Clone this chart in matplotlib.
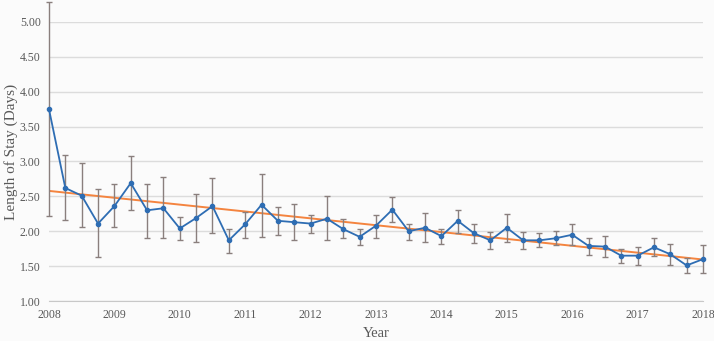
import numpy as np
import matplotlib.pyplot as plt

# Quarterly data 2008-2018
anos = np.arange(41) / 4 + 2008
media = [3.75, 2.62, 2.51, 2.11, 2.36, 2.69, 2.30, 2.33, 2.04, 2.19,
         2.36, 1.87, 2.10, 2.38, 2.15, 2.13, 2.11, 2.18, 2.03, 1.92,
         2.08, 2.31, 2.00, 2.05, 1.93, 2.15, 1.97, 1.87, 2.05, 1.87,
         1.87, 1.90, 1.95, 1.79, 1.78, 1.65, 1.65, 1.77, 1.67, 1.51,
         1.60]
superior = [5.28, 3.09, 2.98, 2.60, 2.68, 3.08, 2.68, 2.78, 2.21, 2.54,
            2.77, 2.03, 2.27, 2.82, 2.35, 2.39, 2.24, 2.50, 2.17, 2.03,
            2.24, 2.49, 2.11, 2.26, 2.03, 2.31, 2.10, 1.99, 2.25, 1.99,
            1.98, 2.01, 2.11, 1.91, 1.93, 1.75, 1.78, 1.90, 1.82, 1.62,
            1.80]
inferior = [2.22, 2.16, 2.06, 1.63, 2.06, 2.30, 1.91, 1.90, 1.88, 1.85,
            1.97, 1.69, 1.91, 1.92, 1.94, 1.88, 1.97, 1.88, 1.90, 1.81,
            1.91, 2.13, 1.88, 1.85, 1.82, 1.98, 1.83, 1.74, 1.84, 1.75,
            1.77, 1.80, 1.80, 1.66, 1.63, 1.55, 1.52, 1.64, 1.52, 1.40,
            1.40]
anos_ticks = list(range(2008, 2019))

media = np.array(media)
erro = [media - np.array(inferior), np.array(superior) - media]

plt.rcParams['font.family'] = ['Liberation Serif', 'DejaVu Serif']
cor_texto = '#595959'

fig = plt.figure(figsize=(7.14, 3.41), dpi=100)
fig.patch.set_facecolor('#fbfbfb')
ax = fig.add_axes([0.0686, 0.1173, 0.916, 0.8182])
ax.set_facecolor('#fbfbfb')

# linha de tendencia
coef = np.polyfit(anos, media, 1)
ax.plot([2008, 2018], np.polyval(coef, [2008, 2018]), color='#f4843f', lw=1.4, zorder=2)

ax.errorbar(anos, media, yerr=erro, color='#2e6db3', lw=1.3, marker='o', ms=3,
            ecolor='#8a7f7d', elinewidth=1, capsize=2.5, capthick=1,
            clip_on=False, zorder=3)

ax.set_xlim(2008, 2018)
ax.set_ylim(1, 5)
ax.set_xticks(anos_ticks)
ax.set_yticks(np.arange(1, 5.01, 0.5))
ax.set_yticklabels([f'{v:.2f}' for v in np.arange(1, 5.01, 0.5)])
ax.grid(axis='y', color='#dcdcdc', lw=1)
ax.set_axisbelow(True)
for s in ['top', 'right', 'left']:
    ax.spines[s].set_visible(False)
ax.spines['bottom'].set_color('#c8c8c8')
ax.tick_params(length=0, colors=cor_texto, labelsize=8.5, pad=6)
ax.set_xlabel('Year', fontsize=10.5, color=cor_texto, labelpad=4)
ax.set_ylabel('Length of Stay (Days)', fontsize=11, color=cor_texto)
ax.yaxis.set_label_coords(-0.047, 0.535)

fig.savefig('out.png', dpi=100, facecolor=fig.get_facecolor())
